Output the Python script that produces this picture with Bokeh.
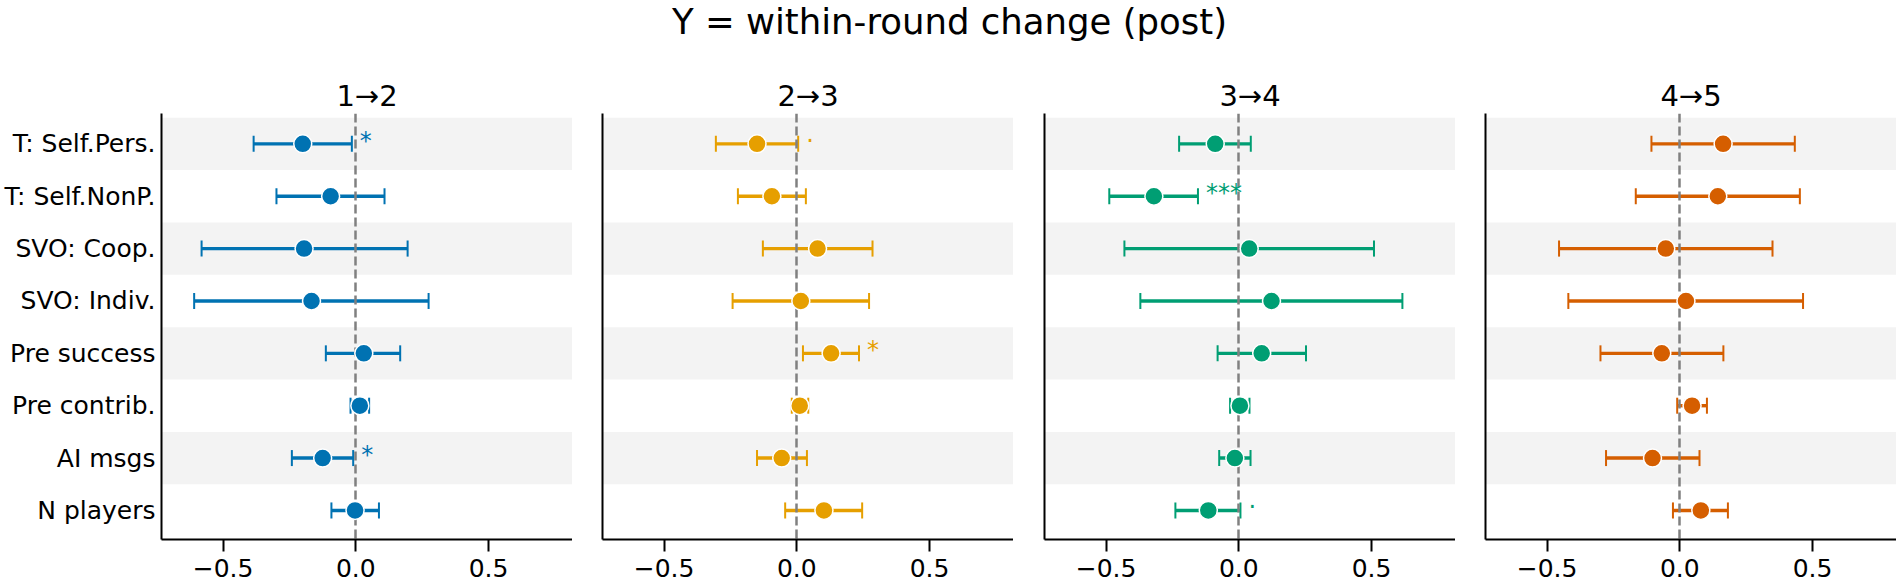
import math

from bokeh.core.properties import value
from bokeh.embed import file_html
from bokeh.layouts import column, row
from bokeh.models import ColumnDataSource, FixedTicker, Range1d
from bokeh.plotting import figure
from bokeh.resources import INLINE

FONT = "DejaVu Sans"

# ---- data -------------------------------------------------------------
suptitle = "Y = within-round change (post)"
predictors = ["T: Self.Pers.", "T: Self.NonP.", "SVO: Coop.", "SVO: Indiv.",
              "Pre success", "Pre contrib.", "AI msgs", "N players"]
rounds = ["1→2", "2→3", "3→4", "4→5"]
colors = ["#0072B2", "#E69F00", "#009E73", "#D55E00"]

est_12 = [-0.200, -0.095, -0.195, -0.167, 0.030, 0.015, -0.125, -0.003]
lo_12 = [-0.385, -0.299, -0.581, -0.609, -0.113, -0.020, -0.241, -0.092]
hi_12 = [-0.015, 0.108, 0.195, 0.274, 0.167, 0.050, -0.010, 0.087]
sig_12 = ["*", "", "", "", "", "", "*", ""]

est_23 = [-0.150, -0.094, 0.078, 0.015, 0.129, 0.011, -0.057, 0.102]
lo_23 = [-0.305, -0.222, -0.128, -0.242, 0.023, -0.019, -0.150, -0.044]
hi_23 = [0.005, 0.034, 0.285, 0.272, 0.234, 0.043, 0.038, 0.246]
sig_23 = ["·", "", "", "", "*", "", "", ""]

est_34 = [-0.089, -0.320, 0.039, 0.123, 0.086, 0.004, -0.015, -0.115]
lo_34 = [-0.225, -0.488, -0.431, -0.371, -0.080, -0.033, -0.074, -0.239]
hi_34 = [0.045, -0.154, 0.509, 0.616, 0.253, 0.040, 0.044, 0.006]
sig_34 = ["", "***", "", "", "", "", "", "·"]

est_45 = [0.163, 0.143, -0.053, 0.023, -0.068, 0.046, -0.103, 0.079]
lo_45 = [-0.107, -0.166, -0.455, -0.420, -0.299, -0.010, -0.278, -0.026]
hi_45 = [0.433, 0.452, 0.349, 0.464, 0.164, 0.102, 0.074, 0.181]
sig_45 = ["", "", "", "", "", "", "", ""]

x_ticks = [-0.5, 0.0, 0.5]
x_tick_labels = ["−0.5", "0.0", "0.5"]

panels = [
    (est_12, lo_12, hi_12, sig_12),
    (est_23, lo_23, hi_23, sig_23),
    (est_34, lo_34, hi_34, sig_34),
    (est_45, lo_45, hi_45, sig_45),
]

# ---- layout constants ----------------------------------------------------
X_LO, X_HI = -0.732, 0.816
Y_TOP, Y_BOT = -0.58, 7.555
SIG_PAD = 0.03
BAND = "#f3f3f3"
LEFT_BORDERS = [161, 30, 31, 30]
LABEL_SIZE = "25px"


def style_axes(p):
    p.grid.visible = False
    p.outline_line_color = None
    p.xaxis.ticker = FixedTicker(ticks=x_ticks)
    p.xaxis.major_label_overrides = dict(zip(x_ticks, x_tick_labels))
    p.xaxis.minor_tick_line_color = None
    p.xaxis.major_tick_out = 12
    p.xaxis.major_tick_in = 0
    p.xaxis.major_tick_line_width = 2
    p.xaxis.axis_line_width = 2
    p.xaxis.major_label_text_font = FONT
    p.xaxis.major_label_text_font_size = LABEL_SIZE
    p.xaxis.major_label_text_color = "black"
    p.xaxis.major_label_standoff = 7
    p.yaxis.axis_line_width = 2
    p.yaxis.major_tick_out = 0
    p.yaxis.major_tick_in = 0
    p.yaxis.minor_tick_line_color = None


def make_panel(i):
    est, lo, hi, sig = panels[i]
    color = colors[i]
    n = len(predictors)
    ys = list(range(n))

    p = figure(frame_width=411, frame_height=426,
               min_border_left=LEFT_BORDERS[i], min_border_right=0,
               min_border_top=53, min_border_bottom=48,
               x_range=Range1d(X_LO, X_HI), y_range=Range1d(Y_BOT, Y_TOP),
               output_backend="svg", toolbar_location=None,
               title=rounds[i])
    p.title.align = "center"
    p.title.text_font = FONT
    p.title.text_font_size = "29px"
    p.title.text_font_style = "normal"
    p.title.text_color = "black"
    p.title.standoff = 2
    style_axes(p)

    if i == 0:
        p.yaxis.ticker = FixedTicker(ticks=ys)
        p.yaxis.major_label_overrides = dict(zip(ys, predictors))
        p.yaxis.major_label_text_font = FONT
        p.yaxis.major_label_text_font_size = LABEL_SIZE
        p.yaxis.major_label_text_color = "black"
        p.yaxis.major_label_standoff = 6
    else:
        p.yaxis.ticker = FixedTicker(ticks=[])

    # alternating row shading
    band_rows = ys[::2]
    p.hbar(y=band_rows, left=X_LO, right=X_HI, height=1.0,
           fill_color=BAND, line_color=None)

    src = ColumnDataSource(dict(y=ys, est=est, lo=lo, hi=hi))
    p.segment(x0="lo", y0="y", x1="hi", y1="y", source=src,
              line_color=color, line_width=3.4)
    for end in ("lo", "hi"):
        p.scatter(x=end, y="y", source=src, marker="dash", size=16,
                  angle=math.pi / 2, line_color=color, line_width=2)

    p.vspan(x=[0.0], line_color="#808080", line_width=2.5, line_dash="9 4")

    p.scatter(x="est", y="y", source=src, marker="circle", size=18,
              fill_color=color, line_color="white", line_width=1.5)

    idx = [k for k in ys if sig[k]]
    if idx:
        sig_src = ColumnDataSource(dict(
            x=[hi[k] + SIG_PAD for k in idx],
            y=idx,
            t=[sig[k] for k in idx]))
        p.text(x="x", y="y", text="t", source=sig_src, text_color=color,
               text_font=value(FONT), text_font_size="24px",
               text_align="left", text_baseline="middle", y_offset=-3)
    return p


header = figure(width=1898, height=60, x_range=Range1d(0, 1),
                y_range=Range1d(0, 60), output_backend="svg",
                toolbar_location=None, min_border=0)
header.axis.visible = False
header.grid.visible = False
header.outline_line_color = None
header.text(x=[0.5], y=[39.5], text=[suptitle], text_align="center",
            text_baseline="alphabetic", text_font=value(FONT),
            text_font_size="35.5px", text_color="black")

layout = column(header, row(*[make_panel(i) for i in range(4)]))

with open("out.html", "w") as f:
    f.write(file_html(layout, INLINE))
